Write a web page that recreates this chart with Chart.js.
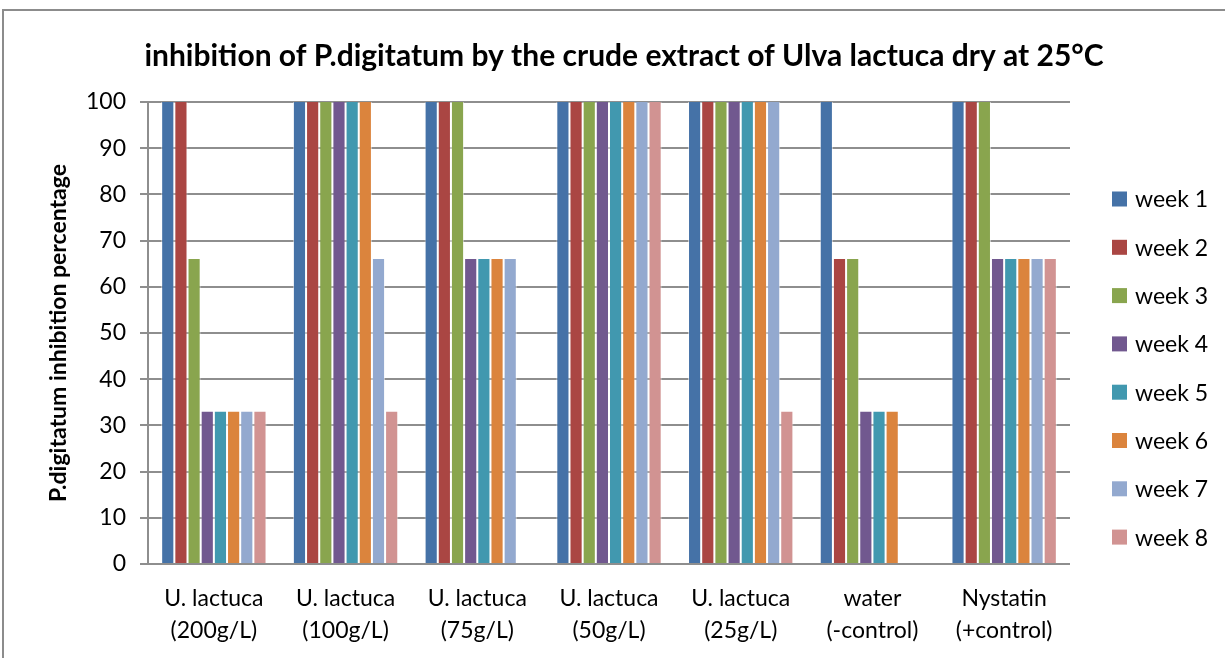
<!DOCTYPE html>
<html>
<head>
<meta charset="utf-8">
<script src="https://cdn.jsdelivr.net/npm/chart.js@4"></script>
<style>
  html, body { margin: 0; padding: 0; background: #fff; }
  #wrap { width: 1225px; height: 658px; position: relative; }
</style>
</head>
<body>
<div id="wrap"><canvas id="myChart" width="1225" height="658"></canvas></div>
<script>
const categories = [
  ["U. lactuca", "(200g/L)"],
  ["U. lactuca", "(100g/L)"],
  ["U. lactuca", "(75g/L)"],
  ["U. lactuca", "(50g/L)"],
  ["U. lactuca", "(25g/L)"],
  ["water", "(-control)"],
  ["Nystatin", "(+control)"]
]
const weekNames = ["week 1", "week 2", "week 3", "week 4", "week 5", "week 6", "week 7", "week 8"]
const weekColors = ["#4572A7", "#AA4643", "#89A54E", "#71588F", "#4198AF", "#DB843D", "#93A9CF", "#D19392"]

// one array per week, one value per treatment
const week1 = [100, 100, 100, 100, 100, 100, 100]
const week2 = [100, 100, 100, 100, 100, 66, 100]
const week3 = [66, 100, 100, 100, 100, 66, 100]
const week4 = [33, 100, 66, 100, 100, 33, 66]
const week5 = [33, 100, 66, 100, 100, 33, 66]
const week6 = [33, 100, 66, 100, 100, 33, 66]
const week7 = [33, 66, 66, 100, 100, 0, 66]
const week8 = [33, 33, 0, 100, 33, 0, 66]
const weekValues = [week1, week2, week3, week4, week5, week6, week7, week8]

const yTicks = [0, 10, 20, 30, 40, 50, 60, 70, 80, 90, 100]
const chartTitle = "inhibition of P.digitatum by the crude extract of Ulva lactuca dry at 25°C"

const font = "Lato, 'Open Sans', sans-serif"
const gridColor = "#8e8e8e"

// frame, title across the full width, legend on the right
const extras = {
  id: "extras",
  afterDraw(chart) {
    const c = chart.ctx
    c.save()
    c.strokeStyle = "#8c8c8c"
    c.lineWidth = 2
    c.strokeRect(3, 10, 1400, 800)

    c.fillStyle = "#000"
    c.font = "bold 30px " + font
    c.textAlign = "center"
    c.textBaseline = "middle"
    c.fillText(chartTitle, 624, 56)

    const x0 = chart.chartArea.right + 42
    c.textAlign = "left"
    c.font = "23px " + font
    chart.data.datasets.forEach((ds, i) => {
      const y = 199 + i * 48.3
      c.fillStyle = ds.backgroundColor
      c.fillRect(x0, y - 7.5, 15, 15)
      c.fillStyle = "#000"
      c.fillText(ds.label, x0 + 23, y + 1)
    })
    c.restore()
  }
}

const ctx = document.getElementById("myChart")
const myChart = new Chart(ctx, {
  type: "bar",
  data: {
    labels: categories,
    datasets: weekNames.map((name, i) => ({
      label: name,
      data: weekValues[i],
      backgroundColor: weekColors[i],
      borderColor: "rgba(255,255,255,0.55)",
      borderWidth: { left: 1, right: 1, top: 0, bottom: 0 },
      categoryPercentage: 0.8,
      barPercentage: 1.0
    }))
  },
  options: {
    responsive: false,
    animation: false,
    layout: { padding: { left: 40, right: 155, top: 102, bottom: 0 } },
    plugins: {
      legend: { display: false },
      tooltip: { enabled: false },
      title: { display: false }
    },
    scales: {
      x: {
        grid: { display: false },
        border: { display: false },
        ticks: { color: "#000", font: { family: font, size: 23, lineHeight: 1.4 }, padding: 10, maxRotation: 0 },
        afterFit: s => { s.height = 94 }
      },
      y: {
        min: 0,
        max: 100,
        afterBuildTicks: s => { s.ticks = yTicks.map(v => ({ value: v })) },
        grid: { color: gridColor, lineWidth: 2, tickLength: 8 },
        border: { display: true, color: gridColor, width: 2 },
        ticks: { color: "#000", font: { family: font, size: 23 }, padding: 14 },
        title: {
          display: true,
          text: "P.digitatum inhibition percentage",
          color: "#000",
          font: { family: font, size: 23, weight: "bold" },
          padding: { top: 5, bottom: 10 }
        },
        afterFit: s => { s.width = 108 }
      }
    }
  },
  plugins: [extras]
})
</script>
</body>
</html>
